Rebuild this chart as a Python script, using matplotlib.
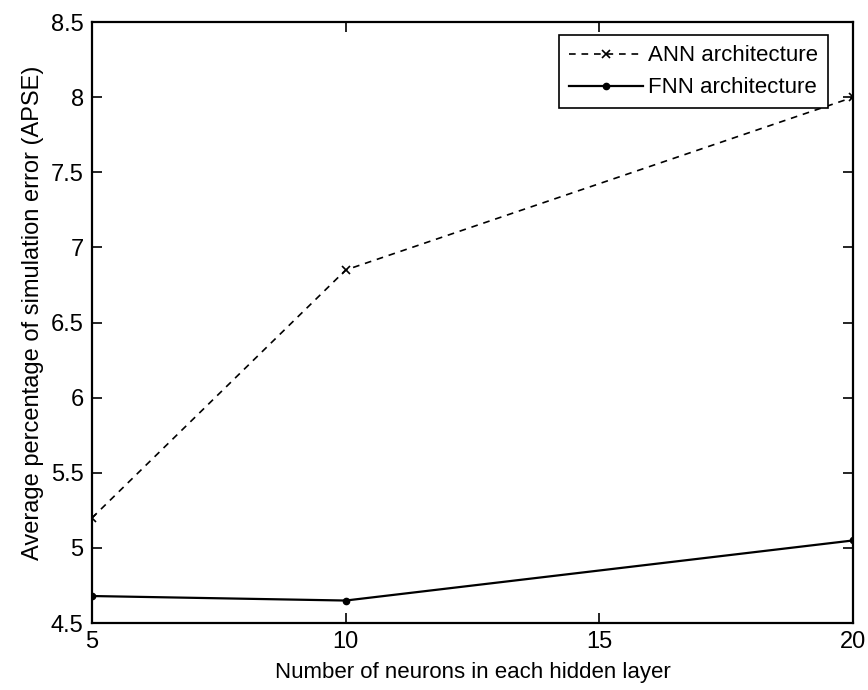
"""
APSE vs number of neurons per hidden layer (ANN vs FNN)
"""

import matplotlib
matplotlib.use("Agg")
import matplotlib.pyplot as plt

neurons = [5, 10, 20]
ann_apse = [5.20, 6.85, 8.00]
fnn_apse = [4.68, 4.65, 5.05]

x_ticks = [5, 10, 15, 20]
y_ticks = [4.5, 5, 5.5, 6, 6.5, 7, 7.5, 8, 8.5]

plt.rcParams['font.family'] = ['Liberation Sans', 'DejaVu Sans']

fig = plt.figure(figsize=(8.68, 6.9), dpi=100)
ax = fig.add_axes([0.106, 0.097, 0.877, 0.871])

ax.plot(neurons, ann_apse, color='black', linestyle=(0, (4, 3.5)), linewidth=1.2,
        marker='x', markersize=6, markeredgewidth=1.2, label='ANN architecture')
ax.plot(neurons, fnn_apse, color='black', linestyle='-', linewidth=1.6,
        marker='.', markersize=9, label='FNN architecture')

ax.set_xlim(5, 20)
ax.set_ylim(4.5, 8.5)
ax.set_xticks(x_ticks)
ax.set_yticks(y_ticks)
ax.set_yticklabels([f"{v:g}" for v in y_ticks])
ax.tick_params(direction='in', top=True, right=True, length=7, width=1.2, labelsize=17, pad=6)
for s in ax.spines.values():
    s.set_linewidth(1.6)

ax.set_xlabel("Number of neurons in each hidden layer", fontsize=16, labelpad=6)
ax.set_ylabel("Average percentage of simulation error (APSE)", fontsize=17)
ax.yaxis.set_label_coords(-0.063, 0.516)

leg = ax.legend(loc='upper right', bbox_to_anchor=(0.967, 0.978), fontsize=16,
                frameon=True, fancybox=False, edgecolor='black', framealpha=1,
                handlelength=3.3, borderaxespad=0, borderpad=0.45,
                labelspacing=0.5, handletextpad=0.25)
leg.get_frame().set_linewidth(1.2)

fig.savefig("out.png", dpi=100)
plt.close(fig)
